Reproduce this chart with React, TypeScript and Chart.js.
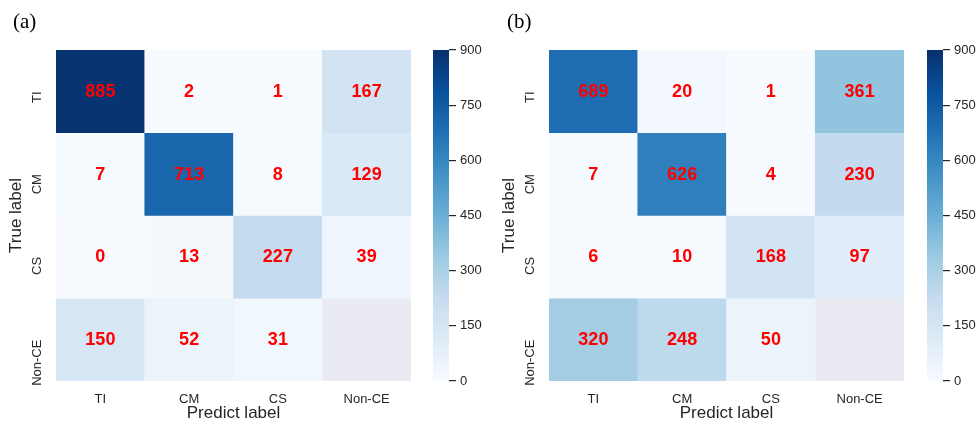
import React, { useEffect, useRef } from 'react';
import { Chart, registerables } from 'chart.js';

Chart.register(...registerables);

// ---------- data ----------
const categories = ['TI', 'CM', 'CS', 'Non-CE'];
const colorbarTicks = [0, 150, 300, 450, 600, 750, 900];
const colorMin = 0;
const colorMax = 900;

// panel (a): rows = true label, columns = predicted label
const a_TI = [885, 2, 1, 167];
const a_CM = [7, 713, 8, 129];
const a_CS = [0, 13, 227, 39];
const a_NonCE = [150, 52, 31, null];

// panel (b)
const b_TI = [689, 20, 1, 361];
const b_CM = [7, 626, 4, 230];
const b_CS = [6, 10, 168, 97];
const b_NonCE = [320, 248, 50, null];

const panelA = [a_TI, a_CM, a_CS, a_NonCE];
const panelB = [b_TI, b_CM, b_CS, b_NonCE];

// ---------- styles ----------
const TEXT = '#262626';
const SANS = "'Liberation Sans', Arial, sans-serif";
const MASK_BG = '#EAEAF2';
const BLUES: number[][] = [
  [247, 251, 255],
  [222, 235, 247],
  [198, 219, 239],
  [158, 202, 225],
  [107, 174, 214],
  [66, 146, 198],
  [33, 113, 181],
  [8, 81, 156],
  [8, 48, 107],
];

function blues(v: number): string {
  let t = (v - colorMin) / (colorMax - colorMin);
  t = Math.max(0, Math.min(1, t));
  const pos = t * (BLUES.length - 1);
  const i = Math.min(Math.floor(pos), BLUES.length - 2);
  const f = pos - i;
  const c = BLUES[i].map((a, k) => Math.round(a + (BLUES[i + 1][k] - a) * f));
  return `rgb(${c[0]},${c[1]},${c[2]})`;
}

Chart.defaults.font.family = SANS;
Chart.defaults.color = TEXT;

const HM_W = 420;
const H = 423;

function Heatmap({ rows, left }: { rows: (number | null)[][]; left: number }) {
  const ref = useRef<HTMLCanvasElement>(null);
  useEffect(() => {
    if (!ref.current) return;
    const maskPlugin = {
      id: 'maskBg',
      beforeDatasetsDraw(chart: any) {
        const { ctx, chartArea } = chart;
        ctx.save();
        ctx.fillStyle = MASK_BG;
        ctx.fillRect(chartArea.left, chartArea.top, chartArea.right - chartArea.left, chartArea.bottom - chartArea.top);
        ctx.restore();
      },
    };
    const textPlugin = {
      id: 'cellText',
      afterDatasetsDraw(chart: any) {
        const { ctx } = chart;
        ctx.save();
        ctx.fillStyle = '#ff0000';
        ctx.font = `bold 18px ${SANS}`;
        ctx.textAlign = 'center';
        ctx.textBaseline = 'middle';
        rows.forEach((row, r) => {
          const meta = chart.getDatasetMeta(r);
          meta.data.forEach((el: any, c: number) => {
            const v = row[c];
            if (v === null || v === undefined) return;
            const p = el.getProps(['x', 'y', 'base'], true);
            ctx.fillText(String(v), p.x, (p.y + p.base) / 2 + 0.5);
          });
        });
        ctx.restore();
      },
    };
    const chart = new Chart(ref.current, {
      type: 'bar',
      data: {
        labels: categories,
        datasets: rows.map((row, r) => ({
          label: categories[r],
          data: row.map((v) => (v === null ? null : [r, r + 1])) as any,
          backgroundColor: row.map((v) => (v === null ? 'rgba(0,0,0,0)' : blues(v))),
          borderWidth: 0,
          grouped: false,
          categoryPercentage: 1,
          barPercentage: 1,
        })),
      },
      options: {
        animation: false,
        responsive: false,
        events: [],
        layout: { padding: { top: 50, right: 9, left: 0, bottom: 0 } },
        plugins: { legend: { display: false }, tooltip: { enabled: false } },
        scales: {
          x: {
            type: 'category',
            offset: true,
            grid: { display: false, drawTicks: false },
            border: { display: false },
            afterFit: (s: any) => { s.height = 42; },
            ticks: { padding: 11, color: TEXT, font: { size: 13, family: SANS } },
            title: { display: true, text: 'Predict label', color: TEXT, font: { size: 17, family: SANS }, padding: { top: 0, bottom: -1 } },
          },
          y: {
            type: 'linear',
            min: 0,
            max: 4,
            reverse: true,
            afterBuildTicks: (s: any) => { s.ticks = categories.map((_, i) => ({ value: i + 0.5 })); },
            afterFit: (s: any) => { s.width = 56; },
            grid: { display: false, drawTicks: false },
            border: { display: false },
            ticks: {
              autoSkip: false,
              minRotation: 90,
              maxRotation: 90,
              crossAlign: 'near',
              padding: 19,
              color: TEXT,
              font: { size: 13, family: SANS },
              callback: (_v: any, i: number) => categories[i],
            },
            title: { display: true, text: 'True label', color: TEXT, font: { size: 17, family: SANS }, padding: { top: 6, bottom: 0 } },
          },
        },
      } as any,
      plugins: [maskPlugin, textPlugin],
    });
    return () => chart.destroy();
  }, [rows]);
  return (
    <canvas
      ref={ref}
      width={HM_W}
      height={H}
      style={{ position: 'absolute', left, top: 0, width: HM_W, height: H, display: 'block' }}
    />
  );
}

const CB_W = 60;

function Colorbar({ left }: { left: number }) {
  const ref = useRef<HTMLCanvasElement>(null);
  useEffect(() => {
    if (!ref.current) return;
    const gradPlugin = {
      id: 'cbGrad',
      beforeDraw(chart: any) {
        const { ctx, chartArea } = chart;
        const g = ctx.createLinearGradient(0, chartArea.bottom, 0, chartArea.top);
        BLUES.forEach((c, i) => g.addColorStop(i / (BLUES.length - 1), `rgb(${c[0]},${c[1]},${c[2]})`));
        ctx.save();
        ctx.fillStyle = g;
        ctx.fillRect(chartArea.left, chartArea.top, chartArea.right - chartArea.left, chartArea.bottom - chartArea.top);
        ctx.restore();
      },
    };
    const chart = new Chart(ref.current, {
      type: 'scatter',
      data: { datasets: [] },
      options: {
        animation: false,
        responsive: false,
        events: [],
        layout: { padding: { top: 50, bottom: 42, left: 8, right: 0 } },
        plugins: { legend: { display: false }, tooltip: { enabled: false } },
        scales: {
          x: { display: false, min: 0, max: 1 },
          y: {
            position: 'right',
            min: colorMin,
            max: colorMax,
            afterBuildTicks: (s: any) => { s.ticks = colorbarTicks.map((v) => ({ value: v })); },
            afterFit: (s: any) => { s.width = 36; },
            grid: { drawOnChartArea: false, drawTicks: true, tickLength: 7, color: TEXT, lineWidth: 1.2 },
            border: { display: false },
            ticks: { padding: 4, color: TEXT, font: { size: 13, family: SANS } },
          },
        },
      } as any,
      plugins: [gradPlugin],
    });
    return () => chart.destroy();
  }, []);
  return (
    <canvas
      ref={ref}
      width={CB_W}
      height={H}
      style={{ position: 'absolute', left, top: 0, width: CB_W, height: H, display: 'block' }}
    />
  );
}

const panelLabel: React.CSSProperties = {
  position: 'absolute',
  top: 11,
  fontFamily: "'Liberation Serif', 'Times New Roman', serif",
  fontSize: 21,
  lineHeight: 1,
  color: '#000',
};

export default function App() {
  return (
    <div style={{ position: 'fixed', left: 0, top: 0, width: 979, height: 423, background: '#fff', overflow: 'hidden' }}>
      <Heatmap rows={panelA} left={0} />
      <Colorbar left={425} />
      <Heatmap rows={panelB} left={493} />
      <Colorbar left={919} />
      <div style={{ ...panelLabel, left: 13 }}>(a)</div>
      <div style={{ ...panelLabel, left: 507 }}>(b)</div>
    </div>
  );
}
